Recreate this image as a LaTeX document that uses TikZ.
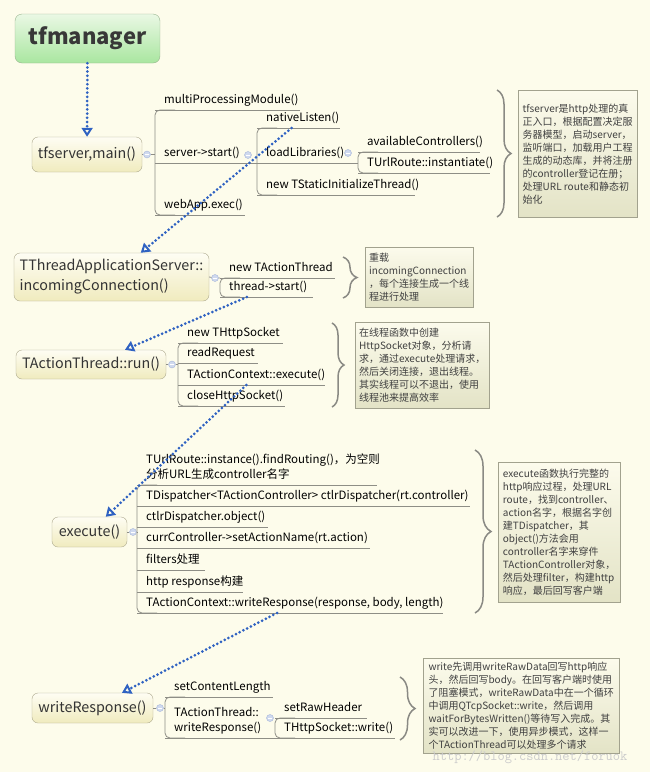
\documentclass[tikz,border=0pt]{standalone}
\usepackage{fontspec}
\setmainfont{Noto Sans CJK SC}
\usepackage{tikz}
\usetikzlibrary{arrows.meta}
\usetikzlibrary{calc}
\usetikzlibrary{decorations.pathreplacing}

\definecolor{bgcol}{HTML}{FDFCEB}
\definecolor{branchcol}{HTML}{8E8E86}
\definecolor{topicline}{HTML}{ADA98E}
\definecolor{topictop}{HTML}{FEFDF3}
\definecolor{topicbot}{HTML}{F0EBBE}
\definecolor{mgrline}{HTML}{98B48E}
\definecolor{mgrtop}{HTML}{EAF8E4}
\definecolor{mgrbot}{HTML}{A9E6A0}
\definecolor{foldline}{HTML}{A6B6DA}
\definecolor{foldfill}{HTML}{CFD9EE}
\definecolor{relcol}{HTML}{2F62C2}
\definecolor{noteline}{HTML}{A2A28E}
\definecolor{notetop}{HTML}{FCFBEC}
\definecolor{notebot}{HTML}{E3E3C6}
\definecolor{bracecol}{HTML}{8A8A84}

\tikzset{
  manager/.style={draw=mgrline, rounded corners=7pt, top color=mgrtop, bottom color=mgrbot,
    font=\bfseries\fontsize{22}{26}\selectfont, text=black!78},
  topic/.style={draw=topicline, rounded corners=6pt, top color=topictop, bottom color=topicbot,
    font=\fontsize{14.3}{20}\selectfont, text=black!80, inner sep=0pt, minimum height=30pt, align=left},
  leaf/.style={anchor=south west, inner xsep=9pt, inner ysep=3pt, text height=9pt, text depth=3pt,
    font=\fontsize{11.5}{15}\selectfont, align=left},
  branch/.style={draw=branchcol, line width=0.8pt},
  fold/.style={circle, draw=foldline, fill=foldfill, minimum size=7pt, inner sep=0pt,
    path picture={\draw[white, line width=0.8pt] ([xshift=-2pt]path picture bounding box.center)
      -- ([xshift=2pt]path picture bounding box.center);}},
  rel/.style={draw=relcol, line width=3pt, line cap=round, dash pattern=on 0pt off 4.2pt,
    -{Triangle[open, length=9pt, width=11pt, line width=2pt]}},
  note/.style={draw=noteline, top color=notetop, bottom color=notebot, anchor=north west,
    font=\fontsize{10}{13}\selectfont, text=black!75, align=left, inner sep=4pt},
  notebrace/.style={draw=bracecol, line width=1.5pt, decorate, decoration={brace, amplitude=#1}}
}

\begin{document}
\begin{tikzpicture}[x=1pt, y=-1pt]

% Background, also fixes the page
\fill[bgcol] (0,0) rectangle (650,772);

% First, the main topics
\draw (87.5,38.5) node[manager, minimum width=145pt, minimum height=49pt] (mgr) {tfmanager};
\draw (87,154.5) node[topic, minimum width=110pt, minimum height=35pt] (srv) {tfserver,main()};
\draw (111.5,277) node[topic, minimum width=195pt, minimum height=48pt] (tas) {TThreadApplicationServer::\\incomingConnection()};
\draw (91,364.5) node[topic, minimum width=150pt, minimum height=29pt] (run) {TActionThread::run()};
\draw (89.5,532) node[topic, minimum width=75pt] (exe) {execute()};
\draw (92.5,708) node[topic, minimum width=121pt] (wrs) {writeResponse()};

% fold markers
\draw (147,154.5) node[fold] (fA) {};
\draw (248,155) node[fold] (fB) {};
\draw (348,153) node[fold] (fC) {};
\draw (215,278) node[fold] (fD) {};
\draw (172,364.5) node[fold] (fE) {};
\draw (133,532) node[fold] (fF) {};
\draw (160,708) node[fold] (fG) {};
\draw (270,718) node[fold] (fH) {};

% tfserver subtree
\draw (155,110) node[leaf] (mp) {multiProcessingModule()};
\draw (155,163) node[leaf] (ss) {server->start()};
\draw (155,215) node[leaf] (we) {webApp.exec()};
\draw (257,128) node[leaf] (nl) {nativeListen()};
\draw (257,163) node[leaf] (ll) {loadLibraries()};
\draw (257,195) node[leaf] (st) {new TStaticInitializeThread()};
\draw (358,152) node[leaf] (ac) {availableControllers()};
\draw (358,173) node[leaf] (ui) {TUrlRoute::instantiate()};

% incomingConnection subtree
\draw (220,278) node[leaf] (na) {new TActionThread};
\draw (220,297) node[leaf] (ts) {thread->start()};

% run subtree
\draw (178,343) node[leaf] (nh) {new THttpSocket};
\draw (178,363) node[leaf] (rr) {readRequest};
\draw (178,385) node[leaf] (ae) {TActionContext::execute()};
\draw (178,406) node[leaf] (ch) {closeHttpSocket()};

% execute subtree
\draw (137,485) node[leaf] (fr) {TUrlRoute::instance().findRouting()，为空则\\分析URL生成controller名字};
\draw (137,506) node[leaf] (td) {TDispatcher<TActionController> ctlrDispatcher(rt.controller)};
\draw (137,527) node[leaf] (co) {ctlrDispatcher.object()};
\draw (137,548) node[leaf] (cc) {currController->setActionName(rt.action)};
\draw (137,570) node[leaf] (fi) {filters处理};
\draw (137,592) node[leaf] (hr) {http response构建};
\draw (137,613) node[leaf] (wr) {TActionContext::writeResponse(response, body, length)};

% writeResponse subtree
\draw (165,697) node[leaf] (sc) {setContentLength};
\draw (165,738) node[leaf] (tw) {TActionThread::\\writeResponse()};
\draw (275,718) node[leaf] (rh) {setRawHeader};
\draw (275,738) node[leaf] (hw) {THttpSocket::write()};

% underlines of all the leaves
\foreach \n/\w in {mp/145, ss/102, we/90, nl/83, ll/101, st/158, ac/122, ui/132,
                   na/115, ts/93, nh/105, rr/80, ae/147, ch/107,
                   fr/240, td/333, co/131, cc/233, fi/68, hr/106, wr/306,
                   sc/108, tw/110, rh/92, hw/120}
  \draw[branch] (\n.south west) -- ++(\w,0);

% the brackets, first child to last child
\foreach \a/\b in {mp/we, nl/st, ac/ui, na/ts, nh/ch, fr/wr, sc/tw, rh/hw}
  \draw[branch, rounded corners=5pt] ([xshift=20pt]\a.south west) -- (\a.south west)
    -- (\b.south west) -- ([xshift=20pt]\b.south west);

% topic to bracket
\draw[branch] (srv.east) -- (fA) -- (fA -| mp.south west);
\draw[branch] (tas.east) -- (fD) -- (fD -| na.south west);
\draw[branch] (run.east) -- (fE) -- (fE -| nh.south west);
\draw[branch] (exe.east) -- (fF) -- (fF -| fr.south west);
\draw[branch] (wrs.east) -- (fG) -- (fG -| sc.south west);

% notes and their braces
\draw (518,90) node[note, minimum width=119pt, minimum height=127pt] (n1)
  {tfserver是http处理的真\\正入口，根据配置决定服\\务器模型，启动server，\\监听端口，加载用户工程\\生成的动态库，并将注册\\的controller登记在册；\\处理URL route和静态初\\始化};
\draw (365,247) node[note, minimum width=108pt, minimum height=60pt] (n2)
  {重载\\incomingConnection\\，每个连接生成一个线\\程进行处理};
\draw (355,322) node[note, minimum width=134pt, minimum height=86pt] (n3)
  {在线程函数中创建\\HttpSocket对象，分析请\\求，通过execute处理请求，\\然后关闭连接，退出线程。\\其实线程可以不退出，使用\\线程池来提高效率};
\draw (498,462) node[note, minimum width=122pt, minimum height=140pt] (n4)
  {execute函数执行完整的\\http响应过程，处理URL\\route，找到controller、\\action名字，根据名字创\\建TDispatcher，其\\object()方法会用\\controller名字来穿件\\TActionController对象，\\然后处理filter，构建http\\响应，最后回写客户端};
\draw (423,658) node[note, minimum width=196pt, minimum height=95pt] (n5)
  {write先调用writeRawData回写http响应\\头，然后回写body。在回写客户端时使用\\了阻塞模式，writeRawData中在一个循环\\中调用QTcpSocket::write，然后调用\\waitForBytesWritten()等待写入完成。其\\实可以改进一下，使用异步模式，这样一\\个TActionThread可以处理多个请求};

\draw[notebrace=14pt] (497,90) -- (497,217);
\draw[notebrace=14pt] (343,257) -- (343,298);
\draw[notebrace=12pt] (332,323) -- (332,407);
\draw[notebrace=16pt] (475,450) -- (475,613);
\draw[notebrace=15pt] (400,677) -- (400,740);

% Finally the dotted relations, centre to centre
\draw[rel] (mgr) -- (srv);
\draw[rel] (nl) -- (tas);
\draw[rel] (ts) -- (run);
\draw[rel] (ae) -- (exe);
\draw[rel] (wr) -- (wrs);

% watermark
\draw (530,757) node[font=\ttfamily\fontsize{14}{14}\selectfont, text=gray!40] (wm) {http://blog.csdn.net/foruok};

\end{tikzpicture}
\end{document}
